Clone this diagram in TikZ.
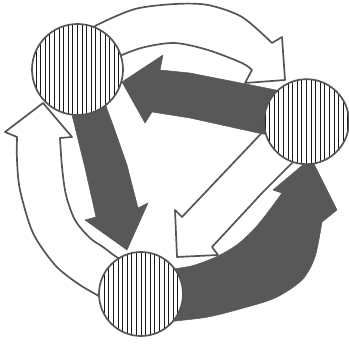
\documentclass[tikz,border=0pt]{standalone}
\definecolor{linec}{RGB}{85,85,85}
\definecolor{darkfill}{RGB}{88,88,88}
\definecolor{hatchc}{RGB}{25,25,25}
\begin{document}
\begin{tikzpicture}[x=1pt,y=-1pt,
  whitearrow/.style={draw=linec, fill=white, line width=1.7pt, line join=round},
  darkarrow/.style={fill=darkfill, draw=darkfill, line width=0.5pt, line join=round},
  ball/.style={circle, fill=white, inner sep=0pt, outer sep=0pt},
  ballrim/.style={draw=linec, line width=1.7pt},
  hatchline/.style={draw=hatchc, line width=0.95pt}]
\useasboundingbox (0,0) rectangle (349,348);

% white arc: top-left -> right
\path[whitearrow] plot[smooth] coordinates {(83,35) (97,25) (135,9) (175,4) (208,5) (242,17) (272,43)}
  -- (282,37) -- (285,80) -- (245,83) -- (252,70)
  -- plot[smooth] coordinates {(252,70) (242,63) (208,50) (175,43) (145,47) (122,55) (108,63)} -- cycle;

% white arc: bottom -> top-left
\path[whitearrow] plot[smooth] coordinates {(110,302) (97,295) (77,283) (55,265) (33,233) (20,190) (17,160) (17,137)}
  -- (5,132) -- (43,103) -- (72,137) -- (60,138)
  -- plot[smooth] coordinates {(60,138) (62,167) (66,195) (75,220) (90,238) (103,247) (115,256) (125,262)} -- cycle;

% dark arc: bottom -> right
\path[darkarrow] plot[smooth] coordinates {(165,322) (176,321) (208,317) (240,309) (275,298) (302,280) (315,257) (322,222)}
  -- (337,210) -- (311,158) -- (273,190) -- (282,193)
  -- plot[smooth] coordinates {(282,193) (268,212) (255,228) (238,244) (218,256) (195,265) (180,268) (165,270)} -- cycle;

% white straight: right -> bottom
\path[whitearrow] (310,144) -- (292,163) -- (263,192) -- (212,247) -- (218,255) -- (177,257) -- (175,210) -- (182,217) -- (255,140) -- (290,103) -- cycle;

% dark straight: right -> top-left
\path[darkarrow] (300,95) -- (266,88) -- (190,73) -- (160,70) -- (163,55) -- (122,82) -- (145,123) -- (152,112) -- (190,118) -- (258,133) -- (300,141) -- cycle;

% dark straight: top-left -> bottom
\path[darkarrow] (66,85) -- (72,115) -- (85,168) -- (96,217) -- (85,220) -- (127,250) -- (148,203) -- (138,208) -- (127,165) -- (113,125) -- (100,90) -- cycle;

% hatched circles
\node[ball, minimum size=91pt] (tl) at (77.5,69.5) {};
\node[ball, minimum size=85pt] (rt) at (306.5,121.7) {};
\node[ball, minimum size=84pt] (bt) at (141,294) {};
\foreach \nm/\rr in {tl/45.5,rt/42.5,bt/42}{
  \begin{scope}
    \clip (\nm.center) circle[radius=\rr];
    \foreach \k in {-10,...,10}
      \draw[hatchline] ([shift={(\k*4.6,-50)}]\nm.center) -- ([shift={(\k*4.6,50)}]\nm.center);
  \end{scope}
  \draw[ballrim] (\nm.center) circle[radius=\rr];
}
\end{tikzpicture}
\end{document}
